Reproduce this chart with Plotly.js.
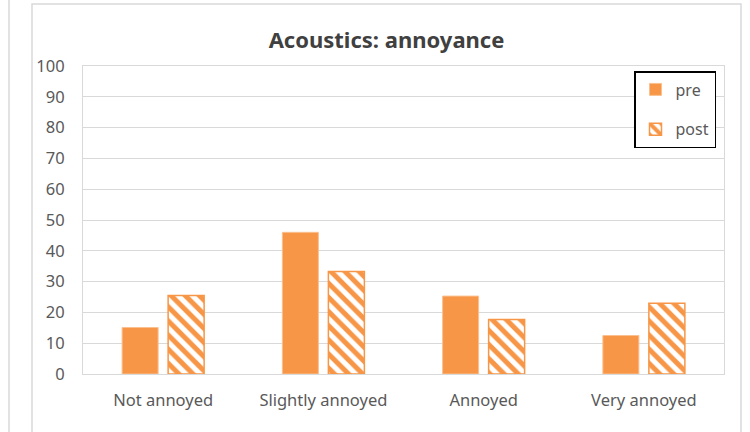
<!DOCTYPE html>
<html>
<head>
<meta charset="utf-8">
<script src="https://cdn.plot.ly/plotly-3.0.1.min.js"></script>
<style>
html,body{margin:0;padding:0;background:#fff;}
#chart{width:750px;height:432px;}
</style>
</head>
<body>
<div id="chart"></div>
<script>
const categories = ["Not annoyed", "Slightly annoyed", "Annoyed", "Very annoyed"];
const preValues = [15.1, 46.0, 25.3, 12.5];
const postValues = [25.5, 33.3, 17.7, 23.0];
const yTicks = [0, 10, 20, 30, 40, 50, 60, 70, 80, 90, 100];

const ORANGE = "#F79646";
const FONT = "Noto Sans, sans-serif";

const W = 750, H = 432;
const M = {l: 83, r: 26, t: 66, b: 58};
const pw = W - M.l - M.r, ph = H - M.t - M.b;
const px = x => (x - M.l) / pw;
const py = y => (H - M.b - y) / ph;

const traces = [
  {
    type: "bar", name: "pre", x: categories, y: preValues, legendgroup: "a",
    marker: {color: ORANGE, line: {color: "#FAC090", width: 1}},
    hoverinfo: "skip"
  },
  {
    type: "bar", name: "post", x: categories, y: postValues, legendgroup: "b",
    marker: {
      color: "#ffffff",
      line: {color: ORANGE, width: 1.5},
      pattern: {shape: "\\", fgcolor: ORANGE, bgcolor: "#ffffff", fgopacity: 1, size: 10, solidity: 0.5, fillmode: "replace"}
    },
    hoverinfo: "skip"
  }
];

const layout = {
  width: W, height: H,
  margin: M,
  paper_bgcolor: "#ffffff",
  plot_bgcolor: "#ffffff",
  barmode: "group",
  bargap: 0.426,
  bargroupgap: 0.217,
  font: {family: FONT, color: "#595959", size: 15},
  title: {
    text: "<b>Acoustics: annoyance</b>",
    font: {family: FONT, size: 22, color: "#404040"},
    xref: "container", yref: "container",
    x: 386.5 / W, y: 1 - 40 / H, xanchor: "center", yanchor: "middle"
  },
  xaxis: {
    showline: true, linecolor: "#d9d9d9", linewidth: 1, mirror: true,
    ticks: "", tickfont: {size: 16.5, color: "#595959"},
    ticklabelstandoff: 11,
    fixedrange: true
  },
  yaxis: {
    range: [0, 100], tickvals: yTicks, ticktext: yTicks.map(String),
    showgrid: true, gridcolor: "#d9d9d9", gridwidth: 1,
    showline: true, linecolor: "#d9d9d9", linewidth: 1, mirror: true,
    zeroline: false, ticks: "",
    tickfont: {size: 16.5, color: "#595959"},
    ticklabelstandoff: 14,
    fixedrange: true
  },
  showlegend: true,
  legend: {
    x: px(634), y: py(71), xanchor: "left", yanchor: "top",
    traceorder: "grouped",
    bordercolor: "#000000", borderwidth: 1.5, bgcolor: "#ffffff",
    font: {size: 16, color: "#595959"},
    tracegroupgap: 16,
    itemwidth: 30
  },
  shapes: [
    {type: "rect", xref: "paper", yref: "paper", x0: px(32), x1: px(741), y0: py(445), y1: py(4),
     line: {color: "#d9d9d9", width: 1.5}, fillcolor: "rgba(0,0,0,0)", layer: "below"},
    {type: "line", xref: "paper", yref: "paper", x0: px(9), x1: px(9), y0: py(445), y1: py(-10),
     line: {color: "#d9d9d9", width: 1.5}}
  ]
};

Plotly.newPlot("chart", traces, layout, {displayModeBar: false, staticPlot: true});
</script>
</body>
</html>
